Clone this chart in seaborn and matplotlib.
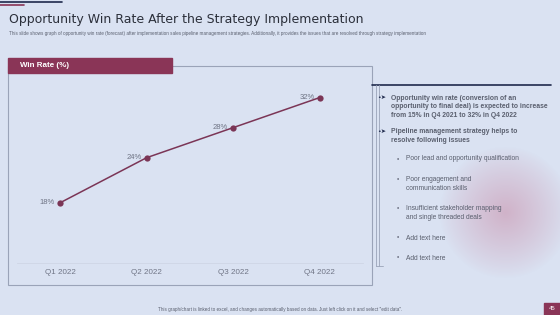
import numpy as np
import pandas as pd
import matplotlib
matplotlib.use('Agg')
import matplotlib.pyplot as plt
import seaborn as sns
from matplotlib.patches import Rectangle

# 数据
quarters = ['Q1 2022', 'Q2 2022', 'Q3 2022', 'Q4 2022']
win_rate = [18, 24, 28, 32]
point_labels = ['18%', '24%', '28%', '32%']

title = 'Opportunity Win Rate After the Strategy Implementation'
subtitle = ('This slide shows graph of opportunity win rate (forecast) after implementation sales pipeline '
            'management strategies. Additionally, it provides the issues that are resolved through strategy implementation')
main_points = [
    'Opportunity win rate (conversion of an\nopportunity to final deal) is expected to increase\nfrom 15% in Q4 2021 to 32% in Q4 2022',
    'Pipeline management strategy helps to\nresolve following issues',
]
issues = [
    'Poor lead and opportunity qualification',
    'Poor engagement and\ncommunication skills',
    'Insufficient stakeholder mapping\nand single threaded deals',
    'Add text here',
    'Add text here',
]
footer = 'This graph/chart is linked to excel, and changes automatically based on data. Just left click on it and select "edit data".'

# 颜色
bg = '#dae2f2'
maroon = '#8a3557'
navy = '#1f2a4d'
gray = '#6f7485'
text_dark = '#5a5f6e'

sns.set_theme(style='white')
plt.rcParams['font.family'] = ['Liberation Sans', 'DejaVu Sans']

W, H = 560, 315
fig = plt.figure(figsize=(5.6, 3.15), dpi=100)
fig.patch.set_facecolor(bg)

# 背景层（像素坐标）
bg_ax = fig.add_axes([0, 0, 1, 1])
bg_ax.axis('off')

# 右侧粉色模糊圆
yy, xx = np.mgrid[0:H, 0:W]
d = np.sqrt((xx - 505) ** 2 + (yy - 212) ** 2)
alpha = np.clip(1 - d / 66, 0, 1) ** 0.9 * 0.7
glow = np.zeros((H, W, 4))
glow[..., 0] = 0.80
glow[..., 1] = 0.62
glow[..., 2] = 0.72
glow[..., 3] = alpha
bg_ax.imshow(glow, extent=[0, W, H, 0], zorder=0)
bg_ax.set_xlim(0, W)
bg_ax.set_ylim(H, 0)

# 左上角装饰线
bg_ax.plot([0, 62], [2, 2], color=navy, lw=1.2)
bg_ax.plot([0, 24], [5, 5], color=maroon, lw=1.2)

# 标题
bg_ax.text(9, 19.5, title, fontsize=9.0, color='#2b2f3a', va='center', ha='left',
           family='DejaVu Sans')
bg_ax.text(9, 34, subtitle, fontsize=3.3, color=text_dark, va='center', ha='left')

# 图表面板
bg_ax.add_patch(Rectangle((8, 66), 364, 219, fill=False, ec='#9aa3b8', lw=0.8))
bg_ax.add_patch(Rectangle((8, 58), 164, 15, color=maroon, zorder=3))
bg_ax.text(20, 65.5, 'Win Rate (%)', fontsize=5.8, color='white', fontweight='bold',
           va='center', ha='left', zorder=4)

# 右侧装饰线
bg_ax.plot([372, 551], [85, 85], color=navy, lw=1.2)
bg_ax.plot([376, 376], [85, 266], color='#9aa3b8', lw=0.6)
bg_ax.plot([379, 379], [85, 266], color='#9aa3b8', lw=0.6)
bg_ax.plot([376, 383], [266, 266], color='#9aa3b8', lw=0.6)

# 右侧文字
for txt, y in zip(main_points, [107, 136]):
    bg_ax.text(377, y - (txt.count('\n') * 4.7), '•➤', fontsize=4.5, color=navy, va='center', ha='left',
               family='DejaVu Sans')
    bg_ax.text(391, y, txt, fontsize=4.9, color=text_dark, fontweight='bold',
               va='center', ha='left', linespacing=1.35)
for txt, y in zip(issues, [159, 184, 213, 238, 258]):
    bg_ax.text(397, y - (txt.count('\n') * 4.3), '•', fontsize=4.8, color=gray, va='center', ha='left')
    bg_ax.text(406, y, txt, fontsize=4.8, color=text_dark, va='center', ha='left', linespacing=1.35)

# 页脚
bg_ax.text(280, 309.5, footer, fontsize=3.3, color=text_dark, va='center', ha='center')
bg_ax.add_patch(Rectangle((544, 303), 16, 12, color=maroon))
bg_ax.text(552, 309, '45', fontsize=4.3, color='white', va='center', ha='center')

# 折线图
ax = fig.add_axes([16.7 / W, 1 - 263 / H, (363 - 16.7) / W, (263 - 75) / H])
ax.set_facecolor('none')
df = pd.DataFrame({'quarter': quarters, 'rate': win_rate})
sns.lineplot(data=df, x='quarter', y='rate', ax=ax, color='#7b3556', lw=1.1,
             marker='o', markersize=4.5, markeredgewidth=0, sort=False)
for i, (v, lab) in enumerate(zip(win_rate, point_labels)):
    ax.annotate(lab, (i, v), xytext=(-3.5, 0), textcoords='offset points',
                fontsize=5.5, color=gray, ha='right', va='center')
ax.set_xlim(-0.5, 3.5)
ax.set_ylim(10, 35)
ax.set_xlabel('')
ax.set_ylabel('')
ax.set_yticks([])
ax.tick_params(axis='x', length=0, labelsize=5.8, labelcolor=gray, pad=4)
for s in ['top', 'left', 'right']:
    ax.spines[s].set_visible(False)
ax.spines['bottom'].set_color('#cfd6e6')
ax.spines['bottom'].set_linewidth(0.6)

fig.savefig('out.png', dpi=100, facecolor=bg)
